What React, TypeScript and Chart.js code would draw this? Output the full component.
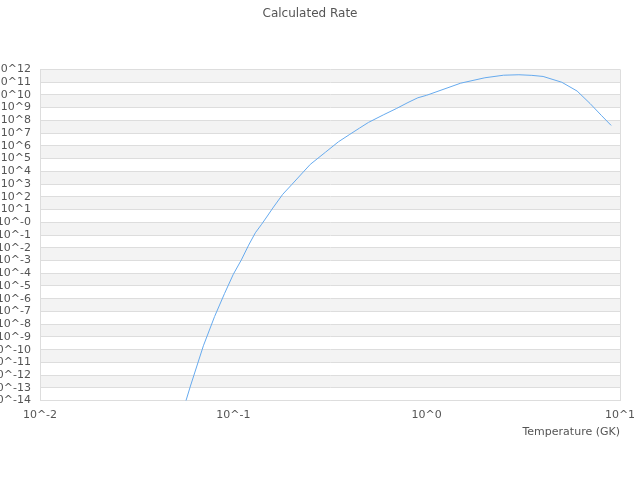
import React, { useEffect, useRef } from "react";
import { Chart, registerables } from "chart.js";

Chart.register(...registerables);

const temperatures = [
  0.05, 0.06, 0.07, 0.08, 0.09, 0.1, 0.11, 0.12, 0.13, 0.14, 0.15, 0.16, 0.18,
  0.2, 0.25, 0.3, 0.35, 0.4, 0.45, 0.5, 0.6, 0.7, 0.8, 0.9, 1, 1.5, 2, 2.5, 3,
  3.5, 4, 5, 6, 7, 8, 9,
];

const rates = [
  1.6e-17, 1.4e-13, 2.0e-10, 4.0e-8, 2.5e-6, 8.3e-5, 1.1e-3, 1.6e-2, 0.15,
  0.69, 3.1, 13, 155, 870, 3.5e4, 3.2e5, 2.1e6, 7.9e6, 2.5e7, 6.9e7, 2.8e8,
  8.7e8, 2.5e9, 5.9e9, 9.3e9, 8.3e10, 2.2e11, 3.5e11, 3.8e11, 3.4e11, 2.8e11,
  9.8e10, 2.0e10, 2.1e9, 2.5e8, 4.0e7,
];

const yTickExponents = [
  -14, -13, -12, -11, -10, -9, -8, -7, -6, -5, -4, -3, -2, -1, 0, 1, 2, 3, 4,
  5, 6, 7, 8, 9, 10, 11, 12,
];
const yTickLabels = [
  "10^-14", "10^-13", "10^-12", "10^-11", "10^-10", "10^-9", "10^-8", "10^-7",
  "10^-6", "10^-5", "10^-4", "10^-3", "10^-2", "10^-1", "10^-0", "10^1",
  "10^2", "10^3", "10^4", "10^5", "10^6", "10^7", "10^8", "10^9", "10^10",
  "10^11", "10^12",
];

const xTickValues = [0.01, 0.1, 1, 10];
const xTickLabels = ["10^-2", "10^-1", "10^0", "10^1"];

const bandPlugin = {
  id: "bands",
  beforeDraw(chart: any) {
    const { ctx, chartArea } = chart;
    const y = chart.scales.y;
    ctx.save();
    ctx.fillStyle = "#f3f3f3";
    const desc = [...yTickExponents].reverse();
    for (let i = 0; i < desc.length - 1; i += 2) {
      const top = y.getPixelForValue(Math.pow(10, desc[i]));
      const bot = y.getPixelForValue(Math.pow(10, desc[i + 1]));
      ctx.fillRect(chartArea.left, top, chartArea.right - chartArea.left, bot - top);
    }
    ctx.restore();
  },
};

export default function App() {
  const ref = useRef<HTMLCanvasElement | null>(null);

  useEffect(() => {
    if (!ref.current) return;
    Chart.defaults.font.family = "'DejaVu Sans', sans-serif";
    const chart = new Chart(ref.current, {
      type: "line",
      data: {
        datasets: [
          {
            data: temperatures.map((t, i) => ({ x: t, y: rates[i] })),
            borderColor: "rgb(102,170,238)",
            borderWidth: 1,
            pointRadius: 0,
            tension: 0,
            fill: false,
          },
        ],
      },
      options: {
        animation: false,
        responsive: false,
        devicePixelRatio: 1,
        layout: { padding: { left: 0, right: 20, top: 0, bottom: 41 } },
        plugins: {
          legend: { display: false },
          tooltip: { enabled: false },
          title: {
            display: true,
            text: "Calculated Rate",
            color: "#555",
            font: { size: 12, weight: "normal" },
            padding: { top: 7, bottom: 48 },
          },
        },
        scales: {
          x: {
            type: "logarithmic",
            min: 0.01,
            max: 10,
            afterBuildTicks: (scale: any) => {
              scale.ticks = xTickValues.map((v) => ({ value: v }));
            },
            afterFit: (scale: any) => {
              scale.paddingRight = 16;
              scale.paddingLeft = 16;
            },
            ticks: {
              autoSkip: false,
              maxRotation: 0,
              padding: 8,
              color: "#555",
              font: { size: 11 },
              callback: (_v: any, i: number) => xTickLabels[i],
            },
            grid: {
              display: true,
              drawTicks: false,
              color: (c: any) =>
                c.tick && c.tick.value === 10 ? "#dddddd" : "rgba(0,0,0,0)",
            },
            border: { display: true, color: "#dddddd" },
            title: {
              display: true,
              text: "Temperature (GK)",
              align: "end",
              color: "#555",
              font: { size: 11 },
              padding: { top: -4, bottom: 0 },
            },
          },
          y: {
            type: "logarithmic",
            min: 1e-14,
            max: 1e12,
            afterBuildTicks: (scale: any) => {
              scale.ticks = yTickExponents.map((e) => ({ value: Math.pow(10, e) }));
            },
            afterFit: (scale: any) => {
              scale.width = 40;
            },
            ticks: {
              autoSkip: false,
              padding: 9,
              color: "#555",
              font: { size: 11 },
              callback: (_v: any, i: number) => yTickLabels[i],
            },
            grid: { color: "#dddddd", drawTicks: false },
            border: { display: true, color: "#dddddd" },
          },
        },
      },
      plugins: [bandPlugin],
    } as any);
    return () => chart.destroy();
  }, []);

  return (
    <div style={{ position: "absolute", left: 0, top: 0, width: 640, height: 480 }}>
      <canvas ref={ref} width={640} height={480} style={{ display: "block" }} />
    </div>
  );
}
